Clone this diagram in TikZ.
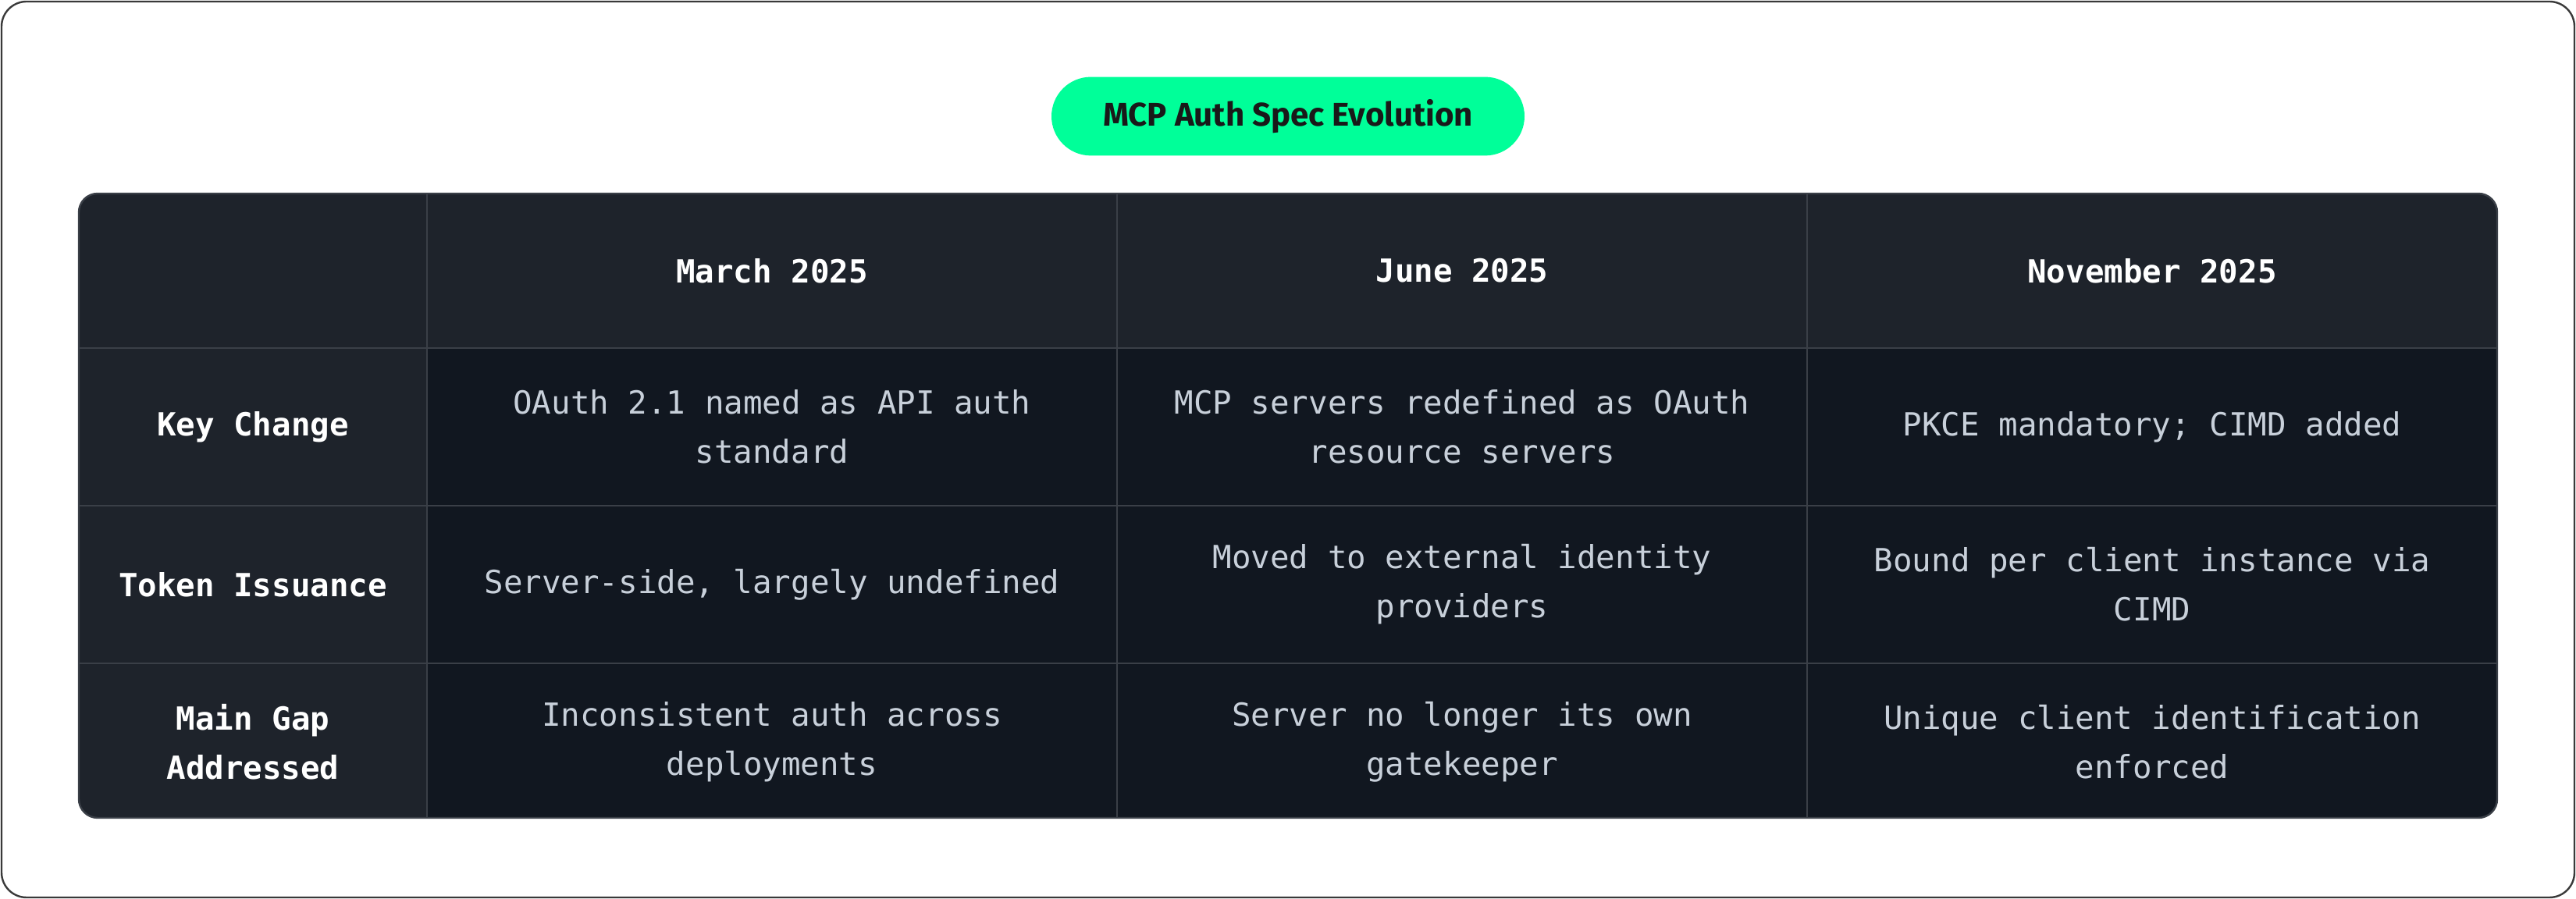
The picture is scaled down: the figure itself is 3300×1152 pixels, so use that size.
\documentclass[tikz,border=0pt]{standalone}
\usepackage{fontspec}
\setmainfont{Fira Sans}
\setmonofont{DejaVu Sans Mono}
\definecolor{hdr}{HTML}{1E232B}
\definecolor{body}{HTML}{111720}
\definecolor{grid}{HTML}{3A3F47}
\definecolor{txt}{HTML}{C8D0DA}
\definecolor{pill}{HTML}{00FF99}
\definecolor{frame}{HTML}{3A3A3A}
\begin{document}
\begin{tikzpicture}[x=0.25pt,y=-0.25pt,
  head/.style={font=\ttfamily\bfseries\fontsize{10.2}{15.8}\selectfont,text=white,align=center},
  cell/.style={font=\ttfamily\fontsize{10.2}{15.8}\selectfont,text=txt,align=center}]
\useasboundingbox (0,0) rectangle (3300,1152);
\draw[frame,line width=0.6pt,rounded corners=8pt] (2,2) rectangle (3298,1150);
\node[fill=pill,rounded corners=12.6pt,minimum width=151.5pt,minimum height=25.2pt,font=\bfseries\fontsize{10.5}{12}\selectfont,text=black!90] (title) at (1650,149) {MCP Auth Spec Evolution};
% table background
\fill[body,rounded corners=6pt] (101,248) rectangle (3199,1048);
\begin{scope}
\clip[rounded corners=6pt] (101,248) rectangle (3199,1048);
\fill[hdr] (101,248) rectangle (3199,446);
\fill[hdr] (101,248) rectangle (547,1048);
\foreach \y in {446,648,850} \draw[grid,line width=0.6pt] (101,\y) -- (3199,\y);
\foreach \x in {547,1431,2315} \draw[grid,line width=0.6pt] (\x,248) -- (\x,1048);
\end{scope}
\draw[grid,line width=0.6pt,rounded corners=6pt] (101,248) rectangle (3199,1048);
\node[head] (h1) at (989,347) {March 2025};
\node[head] (h2) at (1873,347) {June 2025};
\node[head] (h3) at (2757,347) {November 2025};
\node[head] (r1) at (324,547) {Key Change};
\node[head] (r2) at (324,749) {Token Issuance};
\node[head] (r3) at (324,951) {Main Gap\\Addressed};
\node[cell] (c11) at (989,547) {OAuth 2.1 named as API auth\\standard};
\node[cell] (c12) at (1873,547) {MCP servers redefined as OAuth\\resource servers};
\node[cell] (c13) at (2757,547) {PKCE mandatory; CIMD added};
\node[cell] (c21) at (989,749) {Server-side, largely undefined};
\node[cell] (c22) at (1873,749) {Moved to external identity\\providers};
\node[cell] (c23) at (2757,749) {Bound per client instance via\\CIMD};
\node[cell] (c31) at (989,951) {Inconsistent auth across\\deployments};
\node[cell] (c32) at (1873,951) {Server no longer its own\\gatekeeper};
\node[cell] (c33) at (2757,951) {Unique client identification\\enforced};
\end{tikzpicture}
\end{document}
